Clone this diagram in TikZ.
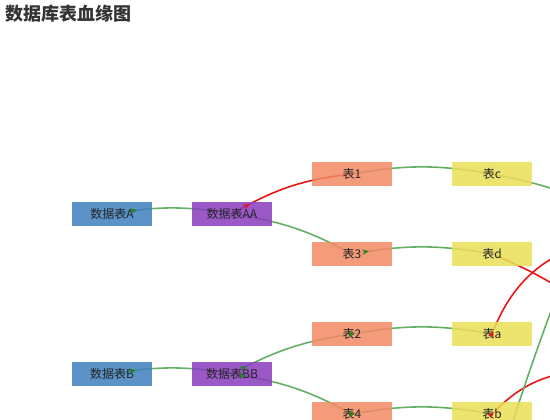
\documentclass[tikz,border=0pt]{standalone}
\usepackage{fontspec}
\setmainfont{Noto Sans CJK SC}
\usetikzlibrary{arrows.meta,decorations.markings}
\definecolor{srcblue}{RGB}{62,127,189}
\definecolor{midpurple}{RGB}{137,60,190}
\definecolor{tblsalmon}{RGB}{242,137,100}
\definecolor{tblyellow}{RGB}{234,222,86}
\definecolor{linkgreen}{RGB}{100,176,100}
\definecolor{linkred}{RGB}{232,22,22}
\definecolor{tipgreen}{RGB}{30,135,30}
\pgfdeclarelayer{back}
\pgfdeclarelayer{front}
\pgfsetlayers{back,main,front}

\begin{document}
\begin{tikzpicture}[x=1pt,y=-1pt,
  tbl/.style={minimum width=80pt,minimum height=24pt,inner sep=0pt,
    font=\fontsize{12}{12}\selectfont,text=black!85,
    fill opacity=0.85,text opacity=1},
  edge/.style={line width=1.6pt,bend left=10},
  flow/.style 2 args={decorate,decoration={markings,
    mark=at position #1 with {\arrow{Stealth[length=9pt,width=8pt,inset=2.5pt,color=#2]}}}}]
\useasboundingbox (0,0) rectangle (550,420);
\clip (0,0) rectangle (550,420);
\node[anchor=west,inner sep=0pt,font=\fontsize{18}{18}\selectfont\bfseries,
  text=black!80] (title) at (5,14) {数据库表血缘图};
% tables
\node[tbl,fill=srcblue] (A) at (112,214) {数据表A};
\node[tbl,fill=midpurple] (AA) at (232,214) {数据表AA};
\node[tbl,fill=tblsalmon] (T1) at (352,174) {表1};
\node[tbl,fill=tblsalmon] (T3) at (352,254) {表3};
\node[tbl,fill=tblyellow] (Tc) at (492,174) {表c};
\node[tbl,fill=tblyellow] (Td) at (492,254) {表d};
\node[tbl,fill=srcblue] (B) at (112,374) {数据表B};
\node[tbl,fill=midpurple] (BB) at (232,374) {数据表BB};
\node[tbl,fill=tblsalmon] (T2) at (352,334) {表2};
\node[tbl,fill=tblsalmon] (T4) at (352,414) {表4};
\node[tbl,fill=tblyellow] (Ta) at (492,334) {表a};
\node[tbl,fill=tblyellow] (Tb) at (492,414) {表b};
% ends outside the view
\coordinate (outC) at (640,230);
\coordinate (outD) at (650,375);
\coordinate (outA) at (600,240);
\coordinate (outB) at (600,372);
\coordinate (inLow) at (488,500);
\coordinate (outLow) at (616,150);
\begin{pgfonlayer}{back}
\draw[edge,linkgreen] (A.center) to (AA.center);
\draw[edge,linkred,bend left=12] (AA.center) to (T1.center);
\draw[edge,linkgreen] (AA.center) to (T3.center);
\draw[edge,linkgreen] (T1.center) to (Tc.center);
\draw[edge,linkgreen] (T3.center) to (Td.center);
\draw[edge,linkgreen] (B.center) to (BB.center);
\draw[edge,linkgreen] (BB.center) to (T2.center);
\draw[edge,linkgreen] (BB.center) to (T4.center);
\draw[edge,linkgreen] (T2.center) to (Ta.center);
\draw[edge,linkgreen] (T4.center) to (Tb.center);
\draw[edge,linkgreen] (Tc.center) to (outC);
\draw[edge,linkred,bend left=15] (Td.center) to (outD);
\draw[edge,linkred,bend left=28] (Ta.center) to (outA);
\draw[edge,linkred,bend left=25] (Tb.center) to (outB);
\draw[edge,linkgreen,bend left=3] (inLow) to (outLow);
\end{pgfonlayer}
% moving arrows
\begin{pgfonlayer}{front}
\path[edge,flow={0.22}{tipgreen}] (A.center) to (AA.center);
\path[edge,bend left=12,flow={0.17}{linkred}] (AA.center) to (T1.center);
\path[edge,flow={0.13}{tipgreen}] (T3.center) to (Td.center);
\path[edge,flow={0.21}{tipgreen}] (B.center) to (BB.center);
\path[edge,flow={0.14}{tipgreen}] (BB.center) to (T2.center);
\path[edge,flow={0.12}{tipgreen}] (BB.center) to (T4.center);
\path[edge,flow={0.03}{tipgreen}] (T2.center) to (Ta.center);
\path[edge,flow={0.03}{tipgreen}] (T4.center) to (Tb.center);
\path[edge,bend left=28,flow={0.03}{linkred}] (Ta.center) to (outA);
\path[edge,bend left=25,flow={0.03}{linkred}] (Tb.center) to (outB);
\end{pgfonlayer}
\end{tikzpicture}
\end{document}
